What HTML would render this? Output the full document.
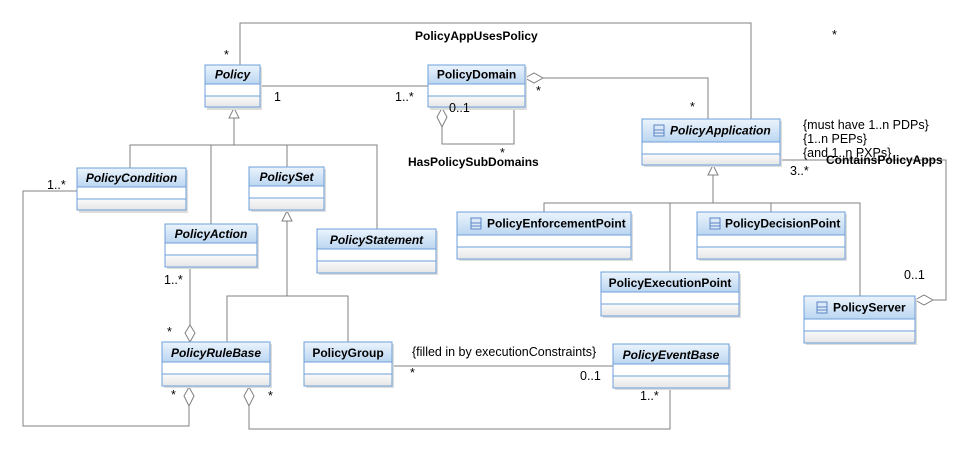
<!DOCTYPE html>
<html><head><meta charset="utf-8"><style>
html,body{margin:0;padding:0;background:#fff;}
svg{display:block;}
text{font-family:"Liberation Sans",sans-serif;font-size:12.5px;fill:#000;}
.b{font-weight:bold;font-size:12px;}
.i{font-style:italic;font-weight:bold;font-size:12px;}
.ln{stroke:#808080;stroke-width:1;fill:none;}
.bx{fill:#fff;stroke:#6d9fdb;stroke-width:1;}
.sep{stroke:#6d9fdb;stroke-width:1;}
</style></head><body>
<svg width="972" height="453" viewBox="0 0 972 453" xmlns="http://www.w3.org/2000/svg">
<defs>
<linearGradient id="hg" x1="0" y1="0" x2="0" y2="1"><stop offset="0" stop-color="#eaf3fc"/><stop offset="1" stop-color="#bcd7f1"/></linearGradient>
<linearGradient id="cg" x1="0" y1="0" x2="0" y2="1"><stop offset="0" stop-color="#fafafa"/><stop offset="1" stop-color="#e6e6e6"/></linearGradient>
<g id="ic"><rect x="0" y="0" width="10" height="11" fill="#dbe8f7" stroke="#5b86c5"/><line x1="0" y1="5" x2="10" y2="5" stroke="#5b86c5"/><line x1="0" y1="8" x2="10" y2="8" stroke="#5b86c5"/></g>
</defs>

<!-- connectors -->
<polyline class="ln" points="240,65 240,23 751,23 751,119"/>
<line class="ln" x1="260" y1="86" x2="428" y2="86"/>
<polyline class="ln" points="543,78 708,78 708,119"/>
<polygon points="525,78 534,73 543,78 534,83" fill="#fff" stroke="#808080"/>
<polyline class="ln" points="442,127 442,144 514,144 514,107"/>
<polygon points="442,108 447,117 442,127 437,117" fill="#fff" stroke="#808080"/>
<polyline class="ln" points="234,118 234,145"/>
<polygon points="229,118 234,108 239,118" fill="#fff" stroke="#808080"/>
<polyline class="ln" points="130,168 130,145 377,145 377,229"/>
<line class="ln" x1="211" y1="145" x2="211" y2="224"/>
<line class="ln" x1="287" y1="145" x2="287" y2="167"/>
<line class="ln" x1="287" y1="221" x2="287" y2="296"/>
<polygon points="282,221 287,211 292,221" fill="#fff" stroke="#808080"/>
<polyline class="ln" points="227,342 227,296 348,296 348,342"/>
<line class="ln" x1="190" y1="267" x2="190" y2="325"/>
<polygon points="190,325 195,333 190,342 185,333" fill="#fff" stroke="#808080"/>
<polyline class="ln" points="77,191 23,191 23,426 189,426 189,406"/>
<polygon points="189,387 194,396 189,406 184,396" fill="#fff" stroke="#808080"/>
<polyline class="ln" points="249,406 249,429 670,429 670,388"/>
<polygon points="249,387 254,396 249,406 244,396" fill="#fff" stroke="#808080"/>
<line class="ln" x1="392" y1="366" x2="613" y2="366"/>
<line class="ln" x1="713" y1="175" x2="713" y2="203"/>
<polygon points="708,175 713,165 718,175" fill="#fff" stroke="#808080"/>
<polyline class="ln" points="544,212 544,203 860,203 860,296"/>
<line class="ln" x1="670" y1="203" x2="670" y2="272"/>
<line class="ln" x1="771" y1="203" x2="771" y2="212"/>
<polyline class="ln" points="780,160 946,160 946,300 933,300"/>
<polygon points="915,300 924,295 933,300 924,305" fill="#fff" stroke="#808080"/>

<g>
<g transform="translate(205,65)"><rect x="2" y="2" width="55" height="43" fill="#ddd"/><rect class="bx" width="55" height="42"/><rect x="0.5" y="0.5" width="54" height="18" fill="url(#hg)"/><rect x="0.5" y="31" width="54" height="11" fill="url(#cg)"/><line class="sep" x1="0" y1="19" x2="55" y2="19"/><line class="sep" x1="0" y1="31" x2="55" y2="31"/><rect class="bx" width="55" height="42" style="fill:none"/><text class="i" x="27.5" y="13.5" text-anchor="middle">Policy</text></g>
<g transform="translate(428,65)"><rect x="2" y="2" width="97" height="43" fill="#ddd"/><rect class="bx" width="97" height="42"/><rect x="0.5" y="0.5" width="96" height="18" fill="url(#hg)"/><rect x="0.5" y="31" width="96" height="11" fill="url(#cg)"/><line class="sep" x1="0" y1="19" x2="97" y2="19"/><line class="sep" x1="0" y1="31" x2="97" y2="31"/><rect class="bx" width="97" height="42" style="fill:none"/><text class="b" x="48.5" y="13.5" text-anchor="middle">PolicyDomain</text></g>
<g transform="translate(77,168)"><rect x="2" y="2" width="109" height="43" fill="#ddd"/><rect class="bx" width="109" height="42"/><rect x="0.5" y="0.5" width="108" height="18" fill="url(#hg)"/><rect x="0.5" y="31" width="108" height="11" fill="url(#cg)"/><line class="sep" x1="0" y1="19" x2="109" y2="19"/><line class="sep" x1="0" y1="31" x2="109" y2="31"/><rect class="bx" width="109" height="42" style="fill:none"/><text class="i" x="54.5" y="14" text-anchor="middle">PolicyCondition</text></g>
<g transform="translate(249,167)"><rect x="2" y="2" width="75" height="43" fill="#ddd"/><rect class="bx" width="75" height="43"/><rect x="0.5" y="0.5" width="74" height="18" fill="url(#hg)"/><rect x="0.5" y="31" width="74" height="12" fill="url(#cg)"/><line class="sep" x1="0" y1="19" x2="75" y2="19"/><line class="sep" x1="0" y1="31" x2="75" y2="31"/><rect class="bx" width="75" height="43" style="fill:none"/><text class="i" x="37.5" y="14" text-anchor="middle">PolicySet</text></g>
<g transform="translate(165,224)"><rect x="2" y="2" width="92" height="43" fill="#ddd"/><rect class="bx" width="92" height="43"/><rect x="0.5" y="0.5" width="91" height="18" fill="url(#hg)"/><rect x="0.5" y="31" width="91" height="12" fill="url(#cg)"/><line class="sep" x1="0" y1="19" x2="92" y2="19"/><line class="sep" x1="0" y1="31" x2="92" y2="31"/><rect class="bx" width="92" height="43" style="fill:none"/><text class="i" x="46" y="14" text-anchor="middle">PolicyAction</text></g>
<g transform="translate(317,229)"><rect x="2" y="2" width="119" height="44" fill="#ddd"/><rect class="bx" width="119" height="44"/><rect x="0.5" y="0.5" width="118" height="19" fill="url(#hg)"/><rect x="0.5" y="32" width="118" height="12" fill="url(#cg)"/><line class="sep" x1="0" y1="20" x2="119" y2="20"/><line class="sep" x1="0" y1="32" x2="119" y2="32"/><rect class="bx" width="119" height="44" style="fill:none"/><text class="i" x="59.5" y="15" text-anchor="middle">PolicyStatement</text></g>
<g transform="translate(162,342)"><rect x="2" y="2" width="108" height="44" fill="#ddd"/><rect class="bx" width="108" height="44"/><rect x="0.5" y="0.5" width="107" height="19" fill="url(#hg)"/><rect x="0.5" y="32" width="107" height="12" fill="url(#cg)"/><line class="sep" x1="0" y1="20" x2="108" y2="20"/><line class="sep" x1="0" y1="32" x2="108" y2="32"/><rect class="bx" width="108" height="44" style="fill:none"/><text class="i" x="54" y="15" text-anchor="middle">PolicyRuleBase</text></g>
<g transform="translate(304,342)"><rect x="2" y="2" width="88" height="44" fill="#ddd"/><rect class="bx" width="88" height="44"/><rect x="0.5" y="0.5" width="87" height="19" fill="url(#hg)"/><rect x="0.5" y="32" width="87" height="12" fill="url(#cg)"/><line class="sep" x1="0" y1="20" x2="88" y2="20"/><line class="sep" x1="0" y1="32" x2="88" y2="32"/><rect class="bx" width="88" height="44" style="fill:none"/><text class="b" x="44" y="15" text-anchor="middle">PolicyGroup</text></g>
<g transform="translate(613,344)"><rect x="2" y="2" width="116" height="44" fill="#ddd"/><rect class="bx" width="116" height="44"/><rect x="0.5" y="0.5" width="115" height="19" fill="url(#hg)"/><rect x="0.5" y="32" width="115" height="12" fill="url(#cg)"/><line class="sep" x1="0" y1="20" x2="116" y2="20"/><line class="sep" x1="0" y1="32" x2="116" y2="32"/><rect class="bx" width="116" height="44" style="fill:none"/><text class="i" x="58" y="15" text-anchor="middle">PolicyEventBase</text></g>
<g transform="translate(601,272)"><rect x="2" y="2" width="138" height="44" fill="#ddd"/><rect class="bx" width="138" height="44"/><rect x="0.5" y="0.5" width="137" height="19" fill="url(#hg)"/><rect x="0.5" y="32" width="137" height="12" fill="url(#cg)"/><line class="sep" x1="0" y1="20" x2="138" y2="20"/><line class="sep" x1="0" y1="32" x2="138" y2="32"/><rect class="bx" width="138" height="44" style="fill:none"/><text class="b" x="69" y="15" text-anchor="middle">PolicyExecutionPoint</text></g>
<g transform="translate(642,119)"><rect x="2" y="2" width="138" height="46" fill="#ddd"/><rect class="bx" width="138" height="46"/><rect x="0.5" y="0.5" width="137" height="22" fill="url(#hg)"/><rect x="0.5" y="35" width="137" height="11" fill="url(#cg)"/><line class="sep" x1="0" y1="23" x2="138" y2="23"/><line class="sep" x1="0" y1="35" x2="138" y2="35"/><rect class="bx" width="138" height="46" style="fill:none"/><use href="#ic" x="12" y="6"/><text class="i" x="28" y="15.5">PolicyApplication</text></g>
<g transform="translate(457,212)"><rect x="2" y="2" width="174" height="47" fill="#ddd"/><rect class="bx" width="174" height="47"/><rect x="0.5" y="0.5" width="173" height="22" fill="url(#hg)"/><rect x="0.5" y="35" width="173" height="12" fill="url(#cg)"/><line class="sep" x1="0" y1="23" x2="174" y2="23"/><line class="sep" x1="0" y1="35" x2="174" y2="35"/><rect class="bx" width="174" height="47" style="fill:none"/><use href="#ic" x="14" y="6"/><text class="b" x="30" y="15.5">PolicyEnforcementPoint</text></g>
<g transform="translate(697,212)"><rect x="2" y="2" width="148" height="47" fill="#ddd"/><rect class="bx" width="148" height="47"/><rect x="0.5" y="0.5" width="147" height="22" fill="url(#hg)"/><rect x="0.5" y="35" width="147" height="12" fill="url(#cg)"/><line class="sep" x1="0" y1="23" x2="148" y2="23"/><line class="sep" x1="0" y1="35" x2="148" y2="35"/><rect class="bx" width="148" height="47" style="fill:none"/><use href="#ic" x="13" y="6"/><text class="b" x="28" y="15.5">PolicyDecisionPoint</text></g>
<g transform="translate(804,296)"><rect x="2" y="2" width="111" height="47" fill="#ddd"/><rect class="bx" width="111" height="47"/><rect x="0.5" y="0.5" width="110" height="22" fill="url(#hg)"/><rect x="0.5" y="35" width="110" height="12" fill="url(#cg)"/><line class="sep" x1="0" y1="23" x2="111" y2="23"/><line class="sep" x1="0" y1="35" x2="111" y2="35"/><rect class="bx" width="111" height="47" style="fill:none"/><use href="#ic" x="13" y="6"/><text class="b" x="29" y="15.5">PolicyServer</text></g>
</g>

<text class="b" x="415" y="40">PolicyAppUsesPolicy</text>
<text x="224" y="59">*</text>
<text x="832" y="39">*</text>
<text x="274" y="101">1</text>
<text x="395" y="101">1..*</text>
<text x="536" y="95">*</text>
<text x="690" y="111">*</text>
<text x="449" y="112">0..1</text>
<text x="500" y="157">*</text>
<text class="b" x="408" y="166">HasPolicySubDomains</text>
<text x="47" y="189">1..*</text>
<text x="164" y="284">1..*</text>
<text x="167" y="336">*</text>
<text x="171" y="399">*</text>
<text x="268" y="400">*</text>
<text x="412" y="356">{filled in by executionConstraints}</text>
<text x="410" y="377">*</text>
<text x="580" y="380">0..1</text>
<text x="640" y="400">1..*</text>
<text x="803" y="129">{must have 1..n PDPs}</text>
<text x="803" y="143">{1..n PEPs}</text>
<text x="803" y="157">{and 1..n PXPs}</text>
<text class="b" x="826" y="164">ContainsPolicyApps</text>
<text x="790" y="175">3..*</text>
<text x="904" y="279">0..1</text>
</svg>
</body></html>
